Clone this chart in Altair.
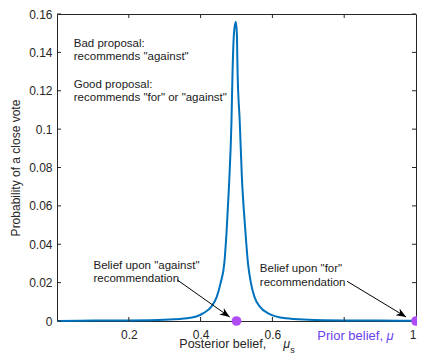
import altair as alt
import pandas as pd

# ---- data ----
mu_s = [0.000, 0.100, 0.200, 0.300, 0.363, 0.408, 0.430, 0.445, 0.456, 0.466,
        0.4725, 0.479, 0.486, 0.489, 0.493, 0.498, 0.501, 0.503, 0.509, 0.515,
        0.5247, 0.532, 0.540, 0.550, 0.565, 0.587, 0.637, 0.700, 0.800, 0.900, 1.000]
prob = [0.0000, 0.0002, 0.0003, 0.0007, 0.0014, 0.0041, 0.0075, 0.0126, 0.0200, 0.0300,
        0.0470, 0.0700, 0.1040, 0.1300, 0.1500, 0.1560, 0.1500, 0.1300, 0.1040, 0.0750,
        0.0470, 0.0300, 0.0200, 0.0126, 0.0075, 0.0041, 0.0014, 0.0007, 0.0003, 0.0002, 0.0001]

x_tick_values = [0.2, 0.4, 0.6, 0.8]
x_label_values = [0.2, 0.4, 0.6, 1.0]
y_tick_values = [0, 0.02, 0.04, 0.06, 0.08, 0.10, 0.12, 0.14, 0.16]

marker_x = [0.5, 1.0]
marker_y = [0.0, 0.0]

ann_text = ["Bad proposal:", 'recommends "against"', "Good proposal:",
            'recommends "for" or "against"', 'Belief  upon "against"', "recommendation",
            'Belief  upon "for"', "recommendation"]
ann_x = [0.0467, 0.0467, 0.0467, 0.0467, 0.1016, 0.1016, 0.565, 0.565]
ann_y = [0.1429, 0.1360, 0.1213, 0.1144, 0.0273, 0.0203, 0.0257, 0.0185]

arrow_x0 = [0.335, 0.808]
arrow_y0 = [0.0214, 0.0207]
arrow_x1 = [0.481, 0.9725]
arrow_y1 = [0.0021, 0.0021]
arrow_angle = [35, 31]

W, H = 359, 307
FONT = "Liberation Sans"
AX = "#262626"
PURPLE = "#b04cf5"
PURPLE_TEXT = "#6a3ff0"

xs = alt.Scale(domain=[0, 1], nice=False, zero=False)
ys = alt.Scale(domain=[0, 0.16], nice=False, zero=False)

x_axis = alt.Axis(
    values=x_label_values, format=".1~f", tickSize=0, domain=False, grid=False,
    labelPadding=8, title=None, labelFontSize=12, labelColor=AX, labelFont=FONT)
y_axis = alt.Axis(
    values=y_tick_values, format=".2~f", tickSize=0, domain=False, grid=False,
    labelPadding=5, labelFontSize=12, labelColor=AX, labelFont=FONT,
    title="Probability of a close vote", titleFontSize=12, titleFontWeight="normal",
    titleColor=AX, titleFont=FONT, titlePadding=6)


def X(field):
    return alt.X(field, scale=xs, axis=x_axis)


def Y(field):
    return alt.Y(field, scale=ys, axis=y_axis)


curve_df = pd.DataFrame({"mu_s": mu_s, "prob": prob})

curve = alt.Chart(curve_df).mark_line(
    color="#0072BD", strokeWidth=2, interpolate="monotone", clip=False
).encode(x=X("mu_s:Q"), y=Y("prob:Q"))

xt_df = pd.DataFrame({"v": x_tick_values})
yt_df = pd.DataFrame({"v": y_tick_values})

tick_b = alt.Chart(xt_df).mark_rule(color=AX, strokeWidth=1).encode(
    x=X("v:Q"), y=alt.value(H), y2=alt.value(H - 4))
tick_t = alt.Chart(xt_df).mark_rule(color=AX, strokeWidth=1).encode(
    x=X("v:Q"), y=alt.value(0), y2=alt.value(4))
tick_l = alt.Chart(yt_df).mark_rule(color=AX, strokeWidth=1).encode(
    y=Y("v:Q"), x=alt.value(0), x2=alt.value(4))
tick_r = alt.Chart(yt_df).mark_rule(color=AX, strokeWidth=1).encode(
    y=Y("v:Q"), x=alt.value(W), x2=alt.value(W - 4))

ann_df = pd.DataFrame({"x": ann_x, "y": ann_y, "t": ann_text})
ann = alt.Chart(ann_df).mark_text(
    align="left", baseline="alphabetic", fontSize=11.5, font=FONT, color="#1a1a1a"
).encode(x=X("x:Q"), y=Y("y:Q"), text="t:N")

arr_df = pd.DataFrame({"x0": arrow_x0, "y0": arrow_y0, "x1": arrow_x1, "y1": arrow_y1,
                       "a": arrow_angle})
arr_line = alt.Chart(arr_df).mark_rule(color="black", strokeWidth=1).encode(
    x=X("x0:Q"), y=Y("y0:Q"), x2="x1:Q", y2="y1:Q")
arr_head = alt.Chart(arr_df).mark_point(
    shape="M0,0 L-2,-0.8 L-1.4,0 L-2,0.8 Z", filled=True, color="black", opacity=1,
    size=100, clip=False
).encode(x=X("x1:Q"), y=Y("y1:Q"), angle=alt.Angle("a:Q", scale=None))

mk_df = pd.DataFrame({"x": marker_x, "y": marker_y})
markers = alt.Chart(mk_df).mark_circle(size=95, color=PURPLE, opacity=1, clip=False).encode(
    x=X("x:Q"), y=Y("y:Q"))

# x-axis title and "Prior belief" label as text
lab_df = pd.DataFrame({
    "x": [0.3407, 0.630, 0.650],
    "y": [-0.0141, -0.0141, -0.0165],
    "t": ["Posterior belief,", "μ", "s"],
})
xtitle_main = alt.Chart(lab_df.iloc[[0]]).mark_text(
    align="left", baseline="alphabetic", fontSize=12.5, font=FONT, color=AX
).encode(x=X("x:Q"), y=Y("y:Q"), text="t:N")
xtitle_mu = alt.Chart(lab_df.iloc[[1]]).mark_text(
    align="left", baseline="alphabetic", fontSize=12.5, font=FONT, fontStyle="italic", color=AX
).encode(x=X("x:Q"), y=Y("y:Q"), text="t:N")
xtitle_s = alt.Chart(lab_df.iloc[[2]]).mark_text(
    align="left", baseline="alphabetic", fontSize=9, font=FONT, color=AX
).encode(x=X("x:Q"), y=Y("y:Q"), text="t:N")

prior_df = pd.DataFrame({"x": [0.725, 0.918], "y": [-0.00984, -0.00984],
                         "t": ["Prior belief,", "μ"]})
prior_main = alt.Chart(prior_df.iloc[[0]]).mark_text(
    align="left", baseline="alphabetic", fontSize=13, font=FONT, color=PURPLE_TEXT
).encode(x=X("x:Q"), y=Y("y:Q"), text="t:N")
prior_mu = alt.Chart(prior_df.iloc[[1]]).mark_text(
    align="left", baseline="alphabetic", fontSize=13, font=FONT, fontStyle="italic",
    color=PURPLE_TEXT
).encode(x=X("x:Q"), y=Y("y:Q"), text="t:N")

chart = alt.layer(
    curve, tick_b, tick_t, tick_l, tick_r, ann, arr_line, arr_head, markers,
    xtitle_main, xtitle_mu, xtitle_s, prior_main, prior_mu
).properties(
    width=W, height=H,
    autosize=alt.AutoSizeParams(type="none"),
    padding={"left": 49, "top": 6, "right": 1, "bottom": 34},
    background="white",
).configure_view(stroke=AX, strokeWidth=1)

chart.save("out.html", embed_options={"renderer": "svg", "actions": False})
